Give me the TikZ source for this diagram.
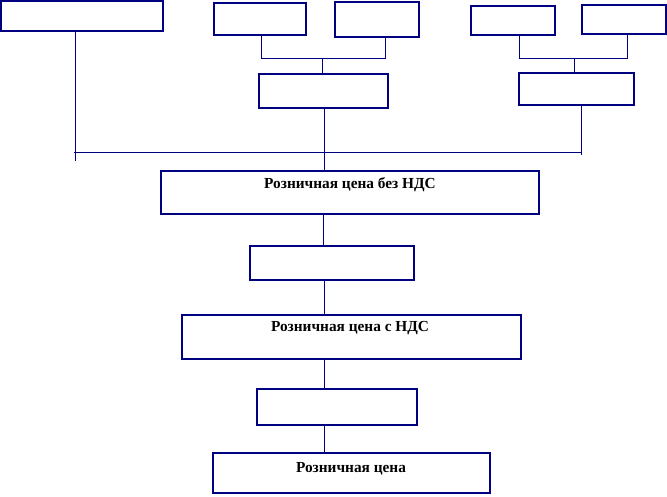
\documentclass[tikz,border=0pt]{standalone}
\usepackage{fontspec}
\setmainfont{Liberation Serif}
\definecolor{navy}{RGB}{0,0,128}
\tikzset{
  box/.style={draw=navy, line width=0.8pt, inner sep=0pt, outer sep=0pt},
  conn/.style={draw=navy, line width=0.75pt},
  lbl/.style={font=\fontsize{11.5}{13}\selectfont\bfseries, inner sep=0pt, text=black}
}
\begin{document}
\begin{tikzpicture}[x=0.75pt,y=-0.75pt]
\useasboundingbox (0,0) rectangle (667,496);
% top boxes
\node[box, minimum width=162*0.75pt, minimum height=30*0.75pt] (A) at (82,16) {};
\node[box, minimum width=92*0.75pt, minimum height=32*0.75pt] (B) at (260,19) {};
\node[box, minimum width=84*0.75pt, minimum height=35*0.75pt] (D) at (377,19.5) {};
\node[box, minimum width=84*0.75pt, minimum height=29*0.75pt] (E) at (513,20.5) {};
\node[box, minimum width=84*0.75pt, minimum height=29*0.75pt] (F) at (624,19.5) {};
\node[box, minimum width=129*0.75pt, minimum height=34*0.75pt] (C) at (323.5,91) {};
\node[box, minimum width=115*0.75pt, minimum height=32*0.75pt] (G) at (576.5,89) {};
% main chain
\node[box, minimum width=378*0.75pt, minimum height=43*0.75pt] (H) at (350,192.5) {};
\node[lbl] (Ht) at (350,185) {Розничная цена без НДС};
\node[box, minimum width=164*0.75pt, minimum height=34*0.75pt] (I) at (332,263) {};
\node[box, minimum width=339*0.75pt, minimum height=44*0.75pt] (J) at (351.5,337) {};
\node[lbl] (Jt) at (350,328) {Розничная цена с НДС};
\node[box, minimum width=160*0.75pt, minimum height=36*0.75pt] (K) at (337,407) {};
\node[box, minimum width=277*0.75pt, minimum height=40*0.75pt] (L) at (351.5,473) {};
\node[lbl] (Lt) at (351,469) {Розничная цена};
% junction coordinates
\coordinate (bj) at (261,58);
\coordinate (dj) at (385,58);
\coordinate (cj) at (322,58);
\coordinate (ej) at (519,58);
\coordinate (fj) at (627,58);
\coordinate (gj) at (574,58);
\coordinate (busL) at (74,152);
\coordinate (busR) at (581,152);
\coordinate (aEnd) at (75,161);
\coordinate (gEnd) at (581,155);
% top-left group
\draw[conn] (B.south -| bj) -- (bj) -- (dj) -- (D.south -| dj);
\draw[conn] (cj) -- (C.north -| cj);
% top-right group
\draw[conn] (E.south -| ej) -- (ej) -- (fj) -- (F.south -| fj);
\draw[conn] (gj) -- (G.north -| gj);
% bus
\draw[conn] (A.south -| aEnd) -- (aEnd);
\draw[conn] (busL) -- (busR);
\draw[conn] (C.south -| 324,0) -- (H.north -| 324,0);
\draw[conn] (G.south -| gEnd) -- (gEnd);
% chain
\draw[conn] (H.south -| 323,0) -- (I.north -| 323,0);
\draw[conn] (I.south -| 324,0) -- (J.north -| 324,0);
\draw[conn] (J.south -| 324,0) -- (K.north -| 324,0);
\draw[conn] (K.south -| 324,0) -- (L.north -| 324,0);
\end{tikzpicture}
\end{document}
